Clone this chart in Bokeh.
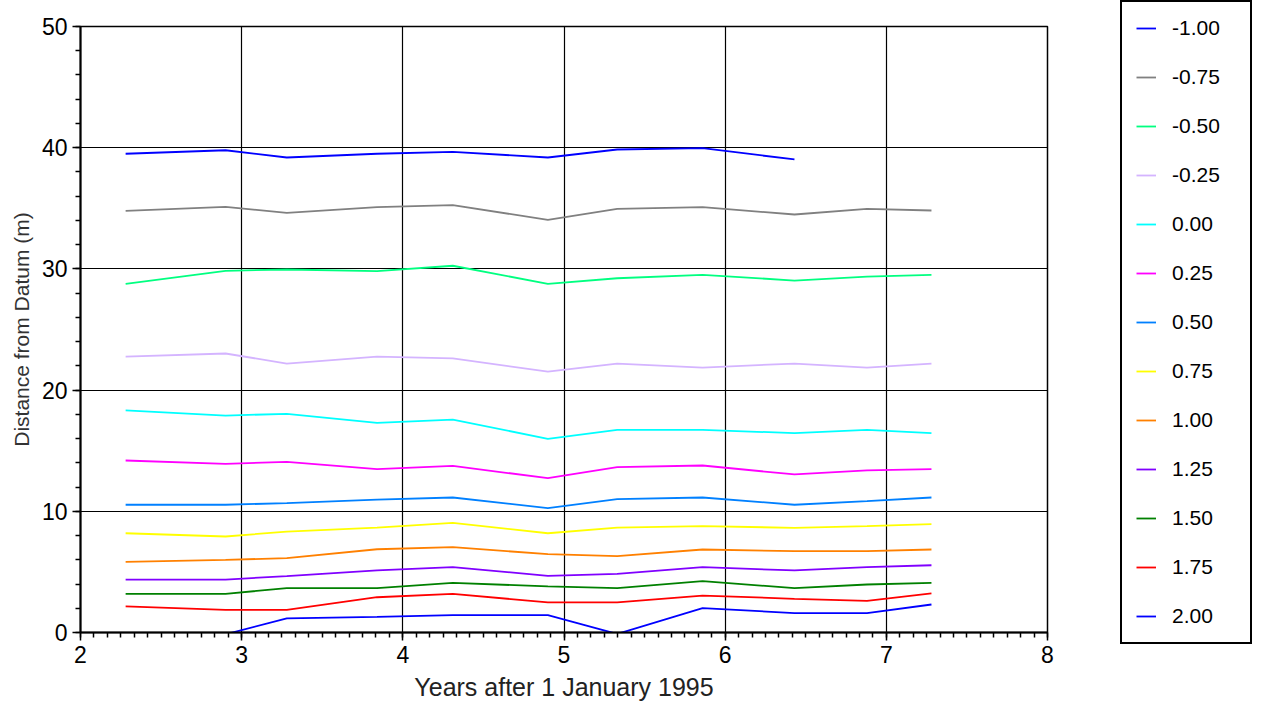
from bokeh.plotting import figure
from bokeh.models import Range1d, SingleIntervalTicker, Legend, LegendItem
from bokeh.embed import file_html
from bokeh.resources import INLINE

# Survey times (years after 1 January 1995)
years = [2.28, 2.90, 3.28, 3.84, 4.31, 4.90, 5.33, 5.86, 6.43, 6.88, 7.28]

# Distance from datum (m) for each contour level
levels = ["-1.00", "-0.75", "-0.50", "-0.25", "0.00", "0.25", "0.50",
          "0.75", "1.00", "1.25", "1.50", "1.75", "2.00"]

d_m100 = [39.50, 39.79, 39.19, 39.50, 39.66, 39.19, 39.85, 39.96, 39.03]
d_m075 = [34.79, 35.12, 34.63, 35.09, 35.26, 34.05, 34.96, 35.09, 34.49, 34.96, 34.82]
d_m050 = [28.77, 29.84, 29.95, 29.81, 30.26, 28.77, 29.23, 29.51, 29.04, 29.37, 29.51]
d_m025 = [22.77, 23.02, 22.19, 22.77, 22.61, 21.53, 22.19, 21.86, 22.19, 21.86, 22.19]
d_000 = [18.32, 17.90, 18.04, 17.30, 17.57, 15.98, 16.72, 16.72, 16.45, 16.72, 16.45]
d_025 = [14.19, 13.92, 14.08, 13.48, 13.75, 12.73, 13.64, 13.78, 13.04, 13.37, 13.48]
d_050 = [10.54, 10.54, 10.67, 10.97, 11.14, 10.26, 11.00, 11.14, 10.54, 10.84, 11.14]
d_075 = [8.19, 7.92, 8.33, 8.66, 9.05, 8.19, 8.66, 8.77, 8.64, 8.77, 8.94]
d_100 = [5.83, 6.00, 6.13, 6.87, 7.04, 6.46, 6.30, 6.85, 6.71, 6.71, 6.85]
d_125 = [4.37, 4.37, 4.65, 5.12, 5.39, 4.68, 4.84, 5.39, 5.12, 5.39, 5.55]
d_150 = [3.19, 3.19, 3.66, 3.66, 4.10, 3.80, 3.66, 4.24, 3.66, 3.96, 4.10]
d_175 = [2.15, 1.87, 1.87, 2.91, 3.19, 2.48, 2.48, 3.05, 2.78, 2.61, 3.22]
d_200 = [-0.15, -0.15, 1.16, 1.29, 1.43, 1.43, -0.12, 2.01, 1.60, 1.60, 2.31]

series = [d_m100, d_m075, d_m050, d_m025, d_000, d_025, d_050,
          d_075, d_100, d_125, d_150, d_175, d_200]

colors = ["#0000ff", "#808080", "#00ff80", "#d4b4ff", "#00ffff", "#ff00ff",
          "#0080ff", "#ffff00", "#ff8000", "#8000ff", "#008000", "#ff0000",
          "#0000ff"]

FONT = "Liberation Sans"

p = figure(
    x_range=Range1d(2, 8), y_range=Range1d(0, 50),
    frame_width=967, frame_height=606,
    min_border_left=80, min_border_right=215,
    min_border_top=26, min_border_bottom=80,
    output_backend="svg", toolbar_location=None,
    background_fill_color="white", border_fill_color="white",
)

p.outline_line_color = "black"
p.outline_line_width = 1.5

# axes
p.xaxis.ticker = SingleIntervalTicker(interval=1, num_minor_ticks=12)
p.yaxis.ticker = SingleIntervalTicker(interval=10, num_minor_ticks=5)
for ax in (p.xaxis[0], p.yaxis[0]):
    ax.axis_line_color = "black"
    ax.axis_line_width = 2
    ax.major_tick_line_color = "black"
    ax.major_tick_line_width = 1.5
    ax.major_tick_in = 0
    ax.major_tick_out = 8
    ax.minor_tick_line_color = "black"
    ax.minor_tick_line_width = 1.5
    ax.minor_tick_in = 0
    ax.minor_tick_out = 5
    ax.major_label_text_font = FONT
    ax.major_label_text_font_size = "23px"
    ax.major_label_text_color = "black"
    ax.major_label_standoff = 5
    ax.axis_label_text_font = FONT
    ax.axis_label_text_font_style = "normal"

p.xaxis.axis_label = "Years after 1 January 1995"
p.xaxis.axis_label_text_font_size = "25px"
p.xaxis.axis_label_text_color = "#222222"
p.xaxis.axis_label_standoff = 7
p.yaxis.axis_label = "Distance from Datum (m)"
p.yaxis.axis_label_text_font_size = "21px"
p.yaxis.axis_label_text_color = "#333333"
p.yaxis.axis_label_standoff = 6

# grid
p.xgrid.ticker = SingleIntervalTicker(interval=1)
p.ygrid.ticker = SingleIntervalTicker(interval=10)
for g in (p.xgrid[0], p.ygrid[0]):
    g.grid_line_color = "black"
    g.grid_line_width = 1.2
    g.grid_line_alpha = 1.0

# contour lines
items = []
for label, vals, col in zip(levels, series, colors):
    r = p.line(years[:len(vals)], vals, line_color=col, line_width=1.8)
    items.append(LegendItem(label=label, renderers=[r]))

legend = Legend(
    items=items,
    location=(73, -12),
    orientation="vertical",
    border_line_color="black",
    border_line_width=2,
    border_line_alpha=1.0,
    background_fill_color="white",
    background_fill_alpha=1.0,
    padding=14,
    spacing=25,
    margin=0,
    glyph_width=20,
    glyph_height=20,
    label_height=20,
    label_standoff=16,
    label_width=64,
    label_text_font=FONT,
    label_text_font_size="21px",
    label_text_color="black",
)
p.add_layout(legend, "right")

open("out.html", "w").write(file_html(p, INLINE))
